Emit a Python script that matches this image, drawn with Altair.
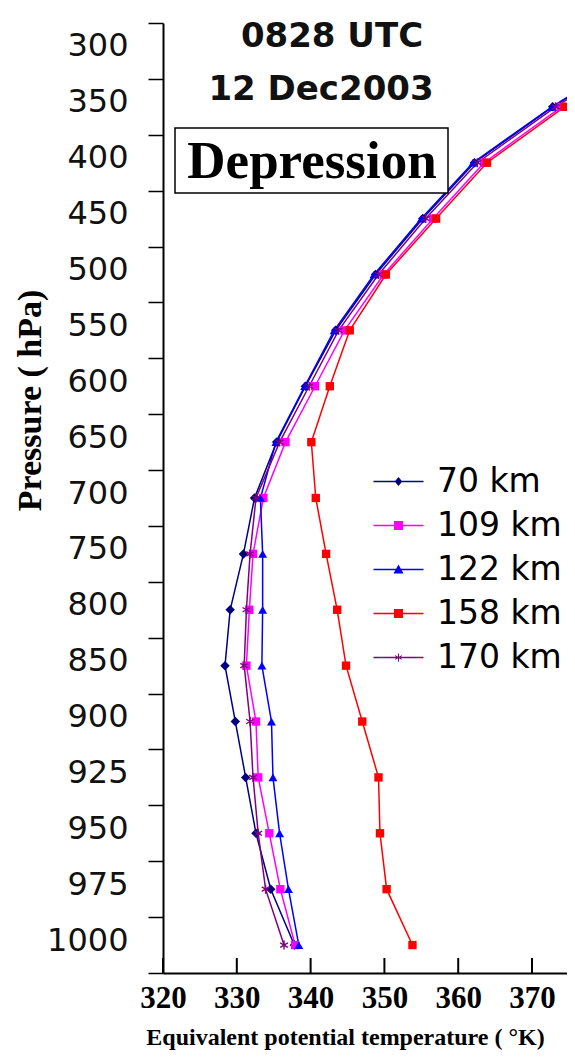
import altair as alt
import pandas as pd

# ---- data ----
pressure = [300, 350, 400, 450, 500, 550, 600, 650, 700, 750, 800, 850, 900, 925, 950, 975, 1000]
series_names = ["70 km", "109 km", "122 km", "158 km", "170 km"]

theta_70 = [385.0, 372.8, 362.2, 355.2, 348.8, 343.4, 339.3, 335.4, 332.4, 330.9, 329.1, 328.4, 329.8, 331.2, 332.6, 334.6, 337.8]
theta_109 = [386.0, 374.0, 363.5, 356.6, 349.9, 344.6, 340.6, 336.6, 333.6, 332.2, 331.7, 331.3, 332.6, 332.9, 334.4, 335.9, 337.9]
theta_122 = [384.8, 372.7, 362.0, 355.0, 348.6, 343.2, 339.2, 335.3, 333.2, 333.5, 333.5, 333.4, 334.7, 334.9, 335.8, 337.0, 338.4]
theta_158 = [386.5, 374.4, 363.9, 357.0, 350.2, 345.3, 342.6, 340.1, 340.7, 342.1, 343.6, 344.8, 347.0, 349.2, 349.4, 350.3, 353.8]
theta_170 = [385.3, 373.2, 362.6, 355.6, 349.2, 343.8, 339.8, 335.8, 332.6, 331.8, 331.3, 331.0, 331.8, 332.2, 332.9, 333.9, 336.4]

x_ticks = [320, 330, 340, 350, 360, 370]

# ---- styling ----
colors = ["#000080", "#FF00FF", "#0000FF", "#FF0000", "#800080"]
ASTER = ("M-0.16,-1H0.16V1H-0.16Z"
         "M0.79,0.63L-0.94,-0.37L-0.79,-0.63L0.94,0.37Z"
         "M0.94,-0.37L-0.79,0.63L-0.94,0.37L0.79,-0.63Z")
point_shapes = ["diamond", "square", "triangle-up", "square", ASTER]
point_sizes = [90, 70, 80, 70, 80]

LINE = "M-5,-0.15H5V0.15H-5Z"
legend_paths = [
    LINE + "M0,-0.9L0.75,0L0,0.9L-0.75,0Z",
    LINE + "M-0.9,-0.9H0.9V0.9H-0.9Z",
    LINE + "M0,-1L1,0.8H-1Z",
    LINE + "M-0.9,-0.9H0.9V0.9H-0.9Z",
    LINE + "M-0.1,-0.8H0.1V0.8H-0.1Z" + "M0.6,0.45L-0.7,-0.3L-0.6,-0.45L0.7,0.3Z" + "M0.7,-0.3L-0.6,0.45L-0.7,0.3L0.6,-0.45Z",
]

rows = []
for name, vals in zip(series_names, [theta_70, theta_109, theta_122, theta_158, theta_170]):
    for p, v in zip(pressure, vals):
        rows.append({"series": name, "p": p, "theta": v})
df = pd.DataFrame(rows)

W, H = 404, 950

x_scale = alt.Scale(domain=[320, 374.74], nice=False, zero=False)
y_scale = alt.Scale(type="band", domain=pressure, paddingInner=0, paddingOuter=0)

x_axis = alt.Axis(
    title="Equivalent potential temperature ( °K)", values=x_ticks, ticks=False, grid=False,
    labelFlush=False,
    labelFont="Liberation Serif", labelFontWeight="bold", labelFontSize=31, labelColor="black",
    labelPadding=10, domainColor="black", domainWidth=2,
    titleFont="Liberation Serif", titleFontWeight="bold", titleFontSize=24, titleColor="black",
    titleX=182, titleY=64, titleAlign="center", titleBaseline="middle",
)
y_axis = alt.Axis(
    title="Pressure ( hPa)", grid=False, tickBand="extent", labelAngle=0,
    labelFont="DejaVu Sans", labelFontSize=32, labelColor="#111111", labelPadding=20,
    labelOffset=-5,
    tickSize=15, tickColor="black", tickWidth=1.5, domainColor="black", domainWidth=2,
    titleFont="Liberation Serif", titleFontWeight="bold", titleFontSize=34, titleColor="black",
    titleAngle=270, titleX=-133, titleY=377, titleAlign="center", titleBaseline="middle",
)

x_enc = alt.X("theta:Q", scale=x_scale, axis=x_axis)
y_enc = alt.Y("p:O", scale=y_scale, axis=y_axis)

layers = []
for name, col in zip(series_names, colors):
    layers.append(
        alt.Chart(df).transform_filter(alt.datum.series == name)
        .mark_line(color=col, strokeWidth=1.5, clip=True)
        .encode(x=x_enc, y=y_enc)
    )
for name, col, shp, sz in zip(series_names, colors, point_shapes, point_sizes):
    layers.append(
        alt.Chart(df).transform_filter(alt.datum.series == name)
        .mark_point(color=col, shape=shp, size=sz, filled=True, opacity=1, clip=True)
        .encode(x=x_enc, y=y_enc)
    )

# inward x ticks drawn as short rules through the x scale
tick_df = pd.DataFrame({"tick": x_ticks})
layers.append(
    alt.Chart(tick_df).mark_rule(color="black", strokeWidth=2, opacity=1)
    .encode(x=alt.X("tick:Q", scale=x_scale, axis=x_axis),
            y=alt.value(H - 15), y2=alt.value(H))
)

# legend (from scales with explicit domains)
leg = alt.Legend(
    title=None, orient="none", legendX=219, legendY=442, padding=0,
    labelFont="DejaVu Sans", labelFontSize=33, labelColor="black", labelOffset=22,
    labelLimit=400, rowPadding=10, symbolSize=100, symbolStrokeWidth=0,
)
layers.append(
    alt.Chart(df).transform_filter("false")
    .mark_point(filled=True, size=100, opacity=1)
    .encode(
        x=x_enc, y=y_enc,
        color=alt.Color("series:N", scale=alt.Scale(domain=series_names, range=colors), legend=leg),
        shape=alt.Shape("series:N", scale=alt.Scale(domain=series_names, range=legend_paths), legend=leg),
    )
)

# annotations
box_df = pd.DataFrame({"k": [1]})
layers.append(
    alt.Chart(box_df).mark_rect(fill="white", stroke="black", strokeWidth=1.5)
    .encode(x=alt.value(12), x2=alt.value(285), y=alt.value(105), y2=alt.value(170))
)
layers.append(
    alt.Chart(pd.DataFrame({"label": ["Depression"]})).mark_text(
        font="Liberation Serif", fontWeight="bold", fontSize=53, color="black",
        align="center", baseline="alphabetic")
    .encode(text="label:N", x=alt.value(149), y=alt.value(155))
)
layers.append(
    alt.Chart(pd.DataFrame({"label": ["0828 UTC"]})).mark_text(
        font="DejaVu Sans", fontWeight="bold", fontSize=34, color="#111111",
        align="center", baseline="alphabetic")
    .encode(text="label:N", x=alt.value(169), y=alt.value(24))
)
layers.append(
    alt.Chart(pd.DataFrame({"label": ["12 Dec2003"]})).mark_text(
        font="DejaVu Sans", fontWeight="bold", fontSize=34, color="#111111",
        align="center", baseline="alphabetic")
    .encode(text="label:N", x=alt.value(158), y=alt.value(77))
)

chart = alt.layer(*layers).properties(
    width=W, height=H,
    padding={"left": 155, "top": 15, "right": 0, "bottom": 79},
    autosize=alt.AutoSizeParams(type="none"),
    background="white",
).configure_view(stroke=None)

chart.save("out.html", embed_options={"renderer": "svg", "actions": False})
